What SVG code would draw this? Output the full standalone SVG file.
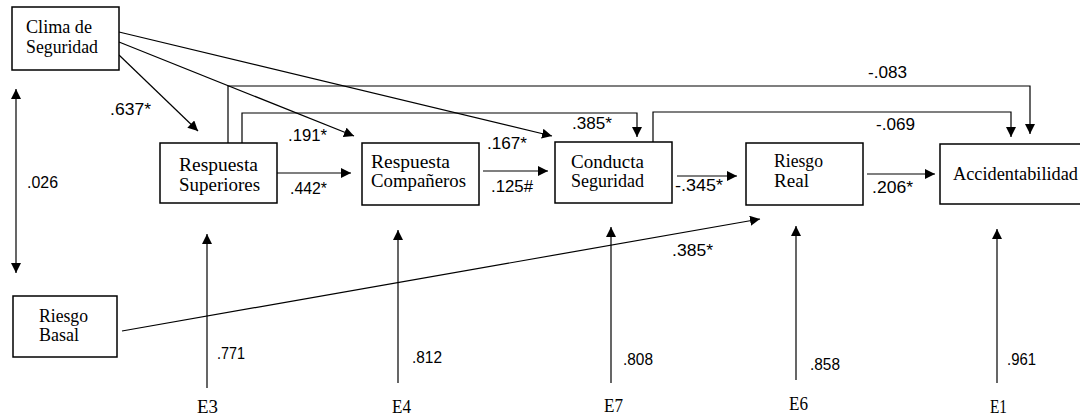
<svg xmlns="http://www.w3.org/2000/svg" width="1080" height="416" viewBox="0 0 1080 416">
<style>
.box{fill:#fff;stroke:#000;stroke-width:1.5}
.nl{font-family:"Liberation Serif","Times New Roman",serif;font-size:18px;fill:#000}
.num{font-family:"Liberation Sans",Arial,sans-serif;font-size:17px;fill:#000}
.c{fill:none;stroke:#000;stroke-width:1.2}
</style>
<defs>
<marker id="ah" viewBox="0 0 10 10" refX="10" refY="5" markerWidth="10" markerHeight="10" markerUnits="userSpaceOnUse" orient="auto-start-reverse"><path d="M0,0 L10,5 L0,10 z" fill="#000"/></marker>
</defs>
<rect width="1080" height="416" fill="#fff"/>
<g id="connectors">
<line class="c" x1="119" y1="55" x2="198" y2="131" marker-end="url(#ah)"/>
<line class="c" x1="119" y1="42" x2="354" y2="136" marker-end="url(#ah)"/>
<line class="c" x1="119" y1="32" x2="552" y2="136" marker-end="url(#ah)"/>
<line class="c" x1="16" y1="89" x2="16" y2="273" marker-start="url(#ah)" marker-end="url(#ah)"/>
<polyline class="c" points="228,143 228,86 1030,86 1030,134" marker-end="url(#ah)"/>
<polyline class="c" points="242,143 242,113 637,113 637,137" marker-end="url(#ah)"/>
<polyline class="c" points="653,142 653,112 1011,112 1011,137" marker-end="url(#ah)"/>
<line class="c" x1="277" y1="173" x2="351" y2="173" marker-end="url(#ah)"/>
<line class="c" x1="483" y1="171" x2="548" y2="171" marker-end="url(#ah)"/>
<line class="c" x1="677" y1="176" x2="737" y2="176" marker-end="url(#ah)"/>
<line class="c" x1="867" y1="174" x2="935" y2="174" marker-end="url(#ah)"/>
<line class="c" x1="122" y1="331" x2="760" y2="219" marker-end="url(#ah)"/>
<line class="c" x1="207" y1="388" x2="207" y2="234" marker-end="url(#ah)"/>
<line class="c" x1="398" y1="383" x2="398" y2="230" marker-end="url(#ah)"/>
<line class="c" x1="611" y1="383" x2="611" y2="227" marker-end="url(#ah)"/>
<line class="c" x1="796" y1="380" x2="796" y2="226" marker-end="url(#ah)"/>
<line class="c" x1="997" y1="383" x2="997" y2="229" marker-end="url(#ah)"/>
</g>
<g id="labels">
<text class="num" x="110" y="115" textLength="41" lengthAdjust="spacingAndGlyphs">.637*</text>
<text class="num" x="27" y="188" textLength="31" lengthAdjust="spacingAndGlyphs">.026</text>
<text class="num" x="288" y="141" textLength="39" lengthAdjust="spacingAndGlyphs">.191*</text>
<text class="num" x="290" y="194" textLength="37" lengthAdjust="spacingAndGlyphs">.442*</text>
<text class="num" x="487" y="149" textLength="40" lengthAdjust="spacingAndGlyphs">.167*</text>
<text class="num" x="572" y="129" textLength="40" lengthAdjust="spacingAndGlyphs">.385*</text>
<text class="num" x="491" y="192" textLength="42" lengthAdjust="spacingAndGlyphs">.125#</text>
<text class="num" x="675" y="191" textLength="48" lengthAdjust="spacingAndGlyphs">-.345*</text>
<text class="num" x="872" y="193" textLength="41" lengthAdjust="spacingAndGlyphs">.206*</text>
<text class="num" x="868" y="78" textLength="39" lengthAdjust="spacingAndGlyphs">-.083</text>
<text class="num" x="876" y="130" textLength="39" lengthAdjust="spacingAndGlyphs">-.069</text>
<text class="num" x="672" y="256" textLength="41" lengthAdjust="spacingAndGlyphs">.385*</text>
<text class="num" x="217" y="359" textLength="28" lengthAdjust="spacingAndGlyphs">.771</text>
<text class="num" x="412" y="363" textLength="30" lengthAdjust="spacingAndGlyphs">.812</text>
<text class="num" x="623" y="365" textLength="30" lengthAdjust="spacingAndGlyphs">.808</text>
<text class="num" x="810" y="370" textLength="30" lengthAdjust="spacingAndGlyphs">.858</text>
<text class="num" x="1007" y="365" textLength="29" lengthAdjust="spacingAndGlyphs">.961</text>
</g>
<g id="clima">
<rect class="box" x="12" y="7" width="107" height="63"/>
<text class="nl" x="26" y="33" textLength="66" lengthAdjust="spacingAndGlyphs">Clima de</text>
<text class="nl" x="26" y="53" textLength="72" lengthAdjust="spacingAndGlyphs">Seguridad</text>
</g>
<g id="respuesta-superiores">
<rect class="box" x="160" y="143" width="117" height="60"/>
<text class="nl" x="179" y="171" textLength="79" lengthAdjust="spacingAndGlyphs">Respuesta</text>
<text class="nl" x="179" y="191" textLength="81" lengthAdjust="spacingAndGlyphs">Superiores</text>
</g>
<g id="respuesta-companeros">
<rect class="box" x="362" y="143" width="117" height="62"/>
<text class="nl" x="371" y="168" textLength="79" lengthAdjust="spacingAndGlyphs">Respuesta</text>
<text class="nl" x="371" y="187" textLength="95" lengthAdjust="spacingAndGlyphs">Compañeros</text>
</g>
<g id="conducta-seguridad">
<rect class="box" x="555" y="142" width="117" height="61"/>
<text class="nl" x="571" y="168" textLength="73" lengthAdjust="spacingAndGlyphs">Conducta</text>
<text class="nl" x="571" y="187" textLength="73" lengthAdjust="spacingAndGlyphs">Seguridad</text>
</g>
<g id="riesgo-real">
<rect class="box" x="746" y="143" width="117" height="62"/>
<text class="nl" x="774" y="167" textLength="49" lengthAdjust="spacingAndGlyphs">Riesgo</text>
<text class="nl" x="774" y="187" textLength="35" lengthAdjust="spacingAndGlyphs">Real</text>
</g>
<g id="accidentabilidad">
<rect class="box" x="940" y="144" width="150" height="60"/>
<text class="nl" x="953" y="180" textLength="125" lengthAdjust="spacingAndGlyphs">Accidentabilidad</text>
</g>
<g id="riesgo-basal">
<rect class="box" x="13" y="296" width="104" height="61"/>
<text class="nl" x="39" y="322" textLength="49" lengthAdjust="spacingAndGlyphs">Riesgo</text>
<text class="nl" x="39" y="341" textLength="40" lengthAdjust="spacingAndGlyphs">Basal</text>
</g>
<g id="errors">
<text class="nl" x="197" y="413" textLength="21" lengthAdjust="spacingAndGlyphs">E3</text>
<text class="nl" x="392" y="413" textLength="19" lengthAdjust="spacingAndGlyphs">E4</text>
<text class="nl" x="604" y="412" textLength="19" lengthAdjust="spacingAndGlyphs">E7</text>
<text class="nl" x="789" y="410" textLength="19" lengthAdjust="spacingAndGlyphs">E6</text>
<text class="nl" x="990" y="413" textLength="17" lengthAdjust="spacingAndGlyphs">E1</text>
</g>
</svg>
